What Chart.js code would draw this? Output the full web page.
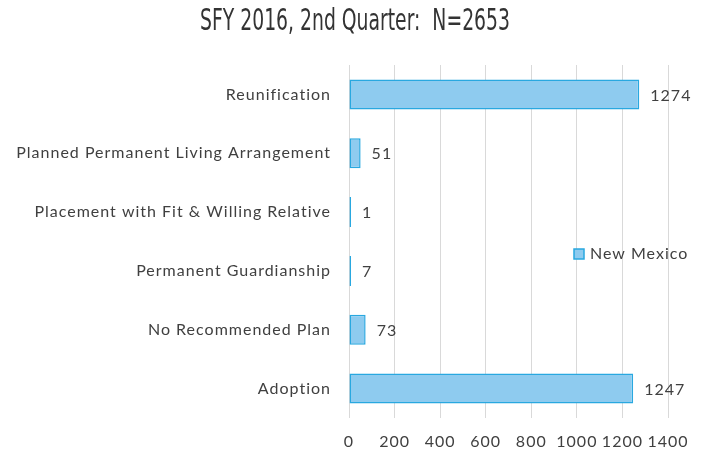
<!DOCTYPE html>
<html>
<head>
<meta charset="utf-8">
<script src="https://cdn.jsdelivr.net/npm/chart.js@4"></script>
<style>
html,body{margin:0;padding:0;background:#fff;}
#wrap{width:704px;height:453px;position:relative;}
</style>
</head>
<body>
<div id="wrap"><canvas id="c" width="704" height="453"></canvas></div>
<script>
const titleText = "SFY 2016, 2nd Quarter:  N=2653";
const categories = ["Reunification", "Planned Permanent Living Arrangement", "Placement with Fit & Willing Relative", "Permanent Guardianship", "No Recommended Plan", "Adoption"];
const values = [1274, 51, 1, 7, 73, 1247];
const seriesName = "New Mexico";
const xTicks = [0, 200, 400, 600, 800, 1000, 1200, 1400];

const textColor = '#404040';
const labelFont = '16px Lato';

const spacing = {
  id: 'spacing',
  beforeDraw(chart) { chart.ctx.letterSpacing = '1px'; }
};

const extras = {
  id: 'extras',
  afterDatasetsDraw(chart) {
    const ctx = chart.ctx;
    const meta = chart.getDatasetMeta(0);
    ctx.save();
    ctx.letterSpacing = '1px';
    ctx.font = labelFont;
    ctx.fillStyle = textColor;
    ctx.textBaseline = 'middle';
    ctx.textAlign = 'left';
    meta.data.forEach((bar, i) => {
      ctx.fillText(String(values[i]), bar.x + 11, bar.y + 1);
    });
    // legend
    const lx = 574, ly = 249;
    ctx.fillStyle = '#8ecbef';
    ctx.fillRect(lx, ly, 10, 10);
    ctx.strokeStyle = '#29a8e0';
    ctx.lineWidth = 1.5;
    ctx.strokeRect(lx, ly, 10, 10);
    ctx.fillStyle = textColor;
    ctx.fillText(seriesName, 590, 254);
    // title
    ctx.letterSpacing = '0px';
    ctx.font = '30px "DejaVu Sans Condensed", "DejaVu Sans"';
    const w = ctx.measureText(titleText).width;
    const target = 310;
    ctx.translate(355, 22);
    ctx.scale(target / w, 1);
    ctx.textAlign = 'center';
    ctx.fillStyle = '#333333';
    ctx.fillText(titleText, 0, 0);
    ctx.restore();
  }
};

new Chart(document.getElementById('c'), {
  type: 'bar',
  data: {
    labels: categories,
    datasets: [{
      label: seriesName,
      data: values,
      backgroundColor: '#8ecbef',
      borderColor: '#29a8e0',
      borderWidth: 1.5,
      borderSkipped: false,
      minBarLength: 2,
      barPercentage: 0.51,
      categoryPercentage: 1.0
    }]
  },
  options: {
    indexAxis: 'y',
    responsive: false,
    animation: false,
    layout: { padding: { left: 0, right: 36, top: 65, bottom: 0 } },
    plugins: { legend: { display: false }, title: { display: false }, tooltip: { enabled: false } },
    scales: {
      x: {
        min: 0, max: 1400,
        afterBuildTicks(scale) { scale.ticks = xTicks.map(v => ({ value: v })); },
        grid: { color: '#d9d9d9', lineWidth: 1, drawTicks: false },
        border: { display: false },
        ticks: { color: textColor, font: { family: 'Lato', size: 16 }, padding: 14, callback: v => String(v) },
        afterFit(scale) { scale.height = 453 - 418; }
      },
      y: {
        grid: { display: false, drawTicks: false },
        border: { display: false },
        ticks: { color: textColor, font: { family: 'Lato', size: 16 }, padding: 18 },
        afterFit(scale) { scale.width = 349; }
      }
    }
  },
  plugins: [spacing, extras]
});
</script>
</body>
</html>
